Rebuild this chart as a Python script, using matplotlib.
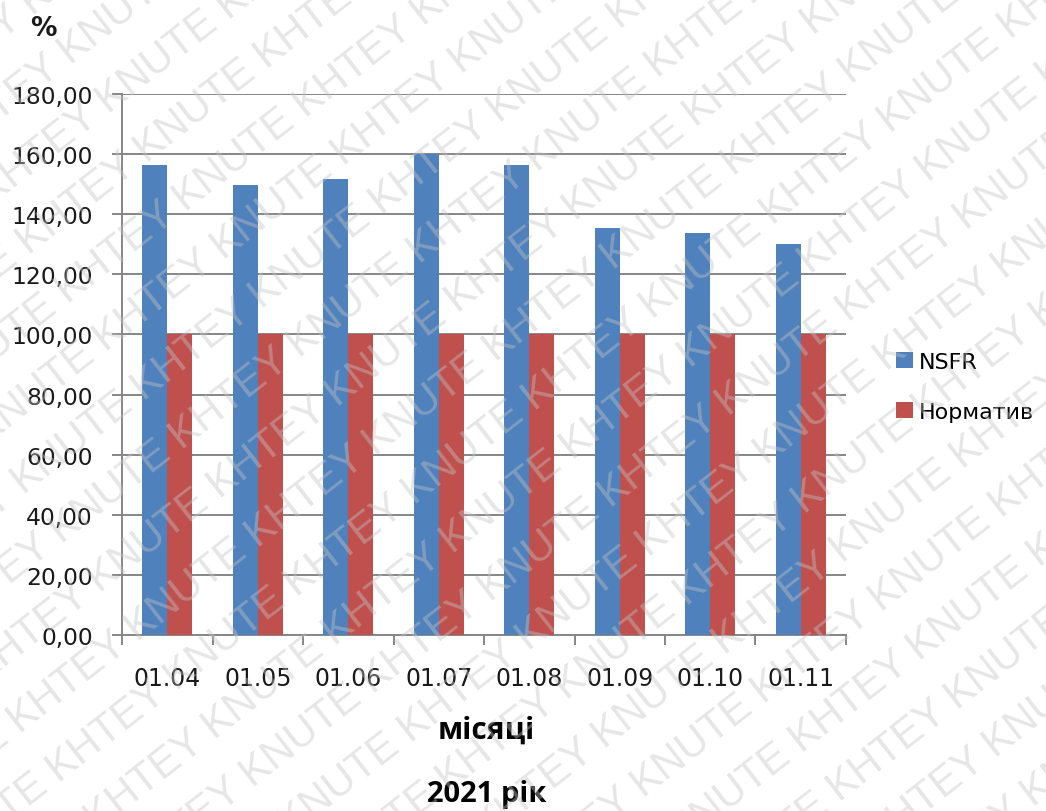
import matplotlib
matplotlib.use('Agg')
import matplotlib.pyplot as plt
from matplotlib.ticker import FuncFormatter
import numpy as np

months = ['01.04', '01.05', '01.06', '01.07', '01.08', '01.09', '01.10', '01.11']
nsfr = [156.5, 149.6, 151.8, 160.0, 156.5, 135.4, 133.8, 130.1]
norm = [100, 100, 100, 100, 100, 100, 100, 100]
series_names = ['NSFR', 'Норматив']

blue = '#4F81BD'
red = '#C0504D'
grid_col = '#868686'

W, H = 1046, 812
fig = plt.figure(figsize=(W / 100, H / 100), dpi=100)
fig.patch.set_facecolor('white')
ax = fig.add_axes([122 / W, 1 - 636 / H, (846 - 122) / W, (636 - 95) / H])

x = np.arange(len(months))
bw = 0.277
ax.bar(x - bw / 2, nsfr, bw, color=blue, label=series_names[0], zorder=3)
ax.bar(x + bw / 2, norm, bw, color=red, label=series_names[1], zorder=3)

ax.set_xlim(-0.5, len(months) - 0.5)
ax.set_ylim(0, 180)
ax.set_yticks(np.arange(0, 181, 20))
ax.yaxis.set_major_formatter(FuncFormatter(lambda v, p: f'{v:.2f}'.replace('.', ',')))
ax.grid(axis='y', color=grid_col, lw=1.4, zorder=0)

# category labels at centres, boundary ticks as minor ticks
ax.set_xticks(x)
ax.set_xticklabels(months)
ax.set_xticks(np.arange(-0.5, len(months)), minor=True)
ax.tick_params(axis='x', which='major', length=0, pad=22, labelsize=17, labelcolor='#1a1a1a')
ax.tick_params(axis='x', which='minor', length=7, width=1.4, color=grid_col, direction='out')
ax.tick_params(axis='y', length=7, width=1.4, color=grid_col, pad=14, labelsize=16.8, labelcolor='#1a1a1a')

for s in ['top', 'right']:
    ax.spines[s].set_visible(False)
for s in ['left', 'bottom']:
    ax.spines[s].set_color(grid_col)
    ax.spines[s].set_linewidth(1.4)

fig.text(43 / W, 1 - 29 / H, '%', ha='center', va='center', fontsize=19, fontweight='bold', color='#1a1a1a')
fig.text(486 / W, 1 - 731 / H, 'місяці', ha='center', va='center', fontsize=21.5, fontweight='bold', family='Open Sans')
fig.text(487 / W, 1 - 795 / H, '2021 рік', ha='center', va='center', fontsize=21, fontweight='bold', family='Open Sans')

fig.legend(loc='center left', bbox_to_anchor=(896 / W, 1 - 388 / H), bbox_transform=fig.transFigure,
           frameon=False, fontsize=16, handlelength=0.75, handleheight=0.75, handletextpad=0.3,
           labelspacing=1.35, borderpad=0, borderaxespad=0)

# diagonal watermark rows, clipped to the figure
wm = fig.add_axes([0, 0, 1, 1], zorder=10)
wm.set_xlim(0, W)
wm.set_ylim(0, H)
wm.axis('off')
wm.patch.set_alpha(0)
ang = np.deg2rad(38)
d = np.array([np.cos(ang), np.sin(ang)])
n = np.array([-np.sin(ang), np.cos(ang)])
row = 'KHTEY KNUTE ' * 12
for i in range(-16, 17):
    p = np.array([W / 2, H / 2]) + i * 62 * n - 900 * d
    wm.text(p[0], p[1], row, rotation=38, rotation_mode='anchor', ha='left', va='center',
            fontsize=30, color='#c4c4c4', alpha=0.42, clip_on=True, family='Liberation Sans')

fig.savefig('out.png', dpi=100)
